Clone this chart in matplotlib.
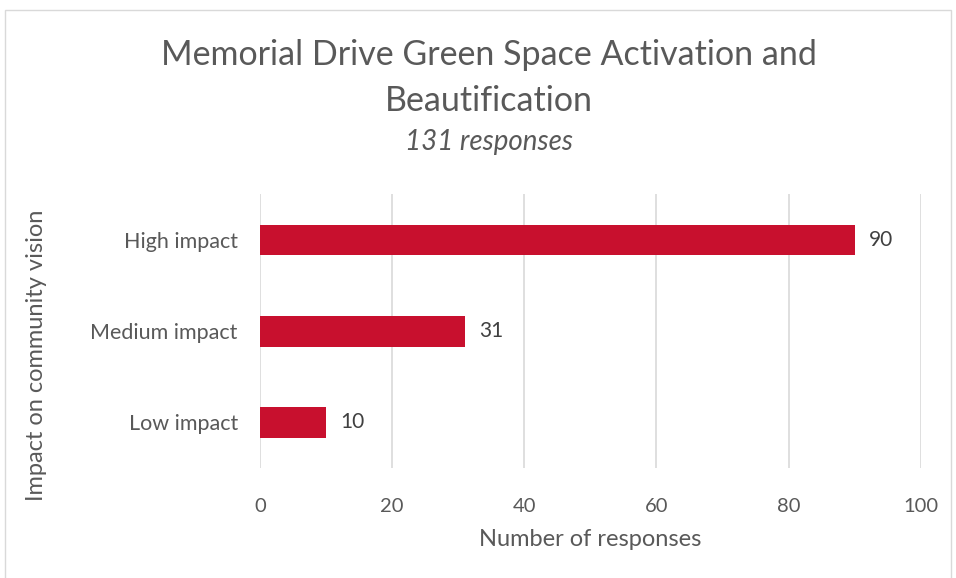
import matplotlib.pyplot as plt
from matplotlib.patches import Rectangle

categories = ['High impact', 'Medium impact', 'Low impact']
values = [90, 31, 10]
xticks = [0, 20, 40, 60, 80, 100]

plt.rcParams['font.family'] = ['Lato', 'DejaVu Sans']
grey = '#595959'

fig = plt.figure(figsize=(9.56, 5.78), dpi=100)
fig.patches.append(Rectangle((0.005, -0.01), 0.99, 0.993, transform=fig.transFigure,
                             fill=False, edgecolor='#d9d9d9', linewidth=1))
ax = fig.add_axes([0.272, 0.191, 0.691, 0.4725])

ypos = list(range(len(categories)))
ax.barh(ypos, values, height=0.34, color='#c8102e', zorder=3)
for y, v in zip(ypos, values):
    ax.text(v + 2.2, y, str(v), va='center', ha='left', fontsize=15, color='#404040')

ax.set_ylim(len(categories) - 0.5, -0.5)
ax.set_yticks(ypos)
ax.set_yticklabels(categories, fontsize=15.5, color=grey)
ax.set_xlim(0, 100)
ax.set_xticks(xticks)
ax.set_xticklabels([str(t) for t in xticks], fontsize=14.5, color=grey)
ax.tick_params(length=0, axis='y', pad=16)
ax.tick_params(length=0, axis='x', pad=22)
ax.grid(axis='x', color='#d9d9d9', linewidth=1.2, zorder=0)
for s in ax.spines.values():
    s.set_visible(False)

ax.set_xlabel('Number of responses', fontsize=17, color=grey, labelpad=10)
fig.text(0.038, 0.386, 'Impact on community vision', rotation=90, fontsize=17,
         color=grey, ha='center', va='center')

fig.text(0.511, 0.905, 'Memorial Drive Green Space Activation and', fontsize=24.5,
         color=grey, ha='center', va='center')
fig.text(0.511, 0.825, 'Beautification', fontsize=24.5, color=grey, ha='center', va='center')
fig.text(0.511, 0.754, '131 responses', fontsize=20, style='italic', color=grey,
         ha='center', va='center')

fig.savefig('out.png', dpi=100)
